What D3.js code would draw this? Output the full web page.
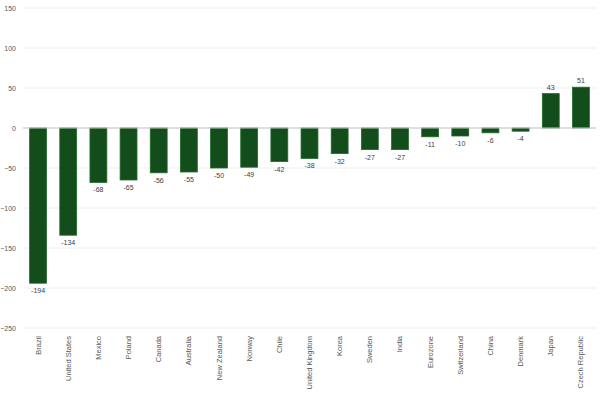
<!DOCTYPE html>
<html>
<head>
<meta charset="utf-8">
<script src="https://cdn.jsdelivr.net/npm/d3@7"></script>
<style>
  body { margin: 0; background: #fff; }
  text { font-family: "Liberation Sans", Arial, sans-serif; fill: #595959; }
</style>
</head>
<body>
<div id="chart"></div>
<script>
// Data
var countries = ["Brazil", "United States", "Mexico", "Poland", "Canada", "Australia",
  "New Zealand", "Norway", "Chile", "United Kingdom", "Korea", "Sweden", "India",
  "Eurozone", "Switzerland", "China", "Denmark", "Japan", "Czech Republic"];
var values = [-194, -134, -68, -65, -56, -55, -50, -49, -42, -38, -32, -27, -27,
  -11, -10, -6, -4, 43, 51];
var yTicks = [150, 100, 50, 0, -50, -100, -150, -200, -250];

var svgWidth = 602;
var svgHeight = 394;

var margin = { top: 8, right: 6, bottom: 66, left: 23 };
var width = svgWidth - margin.left - margin.right;
var height = svgHeight - margin.top - margin.bottom;

var data = countries.map((c, i) => ({ name: c, value: values[i] }));

var svg = d3.select("#chart")
  .append("svg")
  .attr("width", svgWidth)
  .attr("height", svgHeight);

var chartGroup = svg.append("g")
  .attr("transform", `translate(${margin.left}, ${margin.top})`);

// Scales
var xScale = d3.scaleBand()
  .domain(countries)
  .range([0, width])
  .paddingInner(0.44)
  .paddingOuter(0.22);

var yScale = d3.scaleLinear()
  .domain([-250, 150])
  .range([height, 0]);

// Gridlines
chartGroup.selectAll(".grid")
  .data(yTicks.filter(d => d !== 0))
  .enter()
  .append("line")
  .attr("x1", 0)
  .attr("x2", width)
  .attr("y1", d => yScale(d))
  .attr("y2", d => yScale(d))
  .attr("stroke", "#eeeeee")
  .attr("stroke-width", 1);

// Y axis labels
var leftAxis = d3.axisLeft(yScale).tickValues(yTicks).tickSize(0).tickPadding(7);
var yAxis = chartGroup.append("g").call(leftAxis);
yAxis.select(".domain").remove();
yAxis.selectAll("text")
  .style("font-size", "7px")
  .style("fill", "#595959")
  .style("font-family", "'Liberation Sans', Arial, sans-serif");

// Bars
chartGroup.selectAll(".bar")
  .data(data)
  .enter()
  .append("rect")
  .attr("x", d => xScale(d.name))
  .attr("y", d => yScale(Math.max(0, d.value)))
  .attr("width", xScale.bandwidth())
  .attr("height", d => Math.abs(yScale(d.value) - yScale(0)))
  .attr("fill", "#144d1c")
  .attr("stroke", "#1f6b2a")
  .attr("stroke-width", 0.8);

// Zero line
chartGroup.append("line")
  .attr("x1", 0)
  .attr("x2", width)
  .attr("y1", yScale(0))
  .attr("y2", yScale(0))
  .attr("stroke", "#bfbfbf")
  .attr("stroke-width", 1.2);

// Value labels
chartGroup.selectAll(".val")
  .data(data)
  .enter()
  .append("text")
  .attr("x", d => xScale(d.name) + xScale.bandwidth() / 2)
  .attr("y", d => d.value < 0 ? yScale(d.value) + 10 : yScale(d.value) - 4)
  .attr("text-anchor", "middle")
  .style("font-size", "7px")
  .style("fill", "#404040")
  .text(d => d.value);

// Category labels (rotated)
chartGroup.selectAll(".cat")
  .data(countries)
  .enter()
  .append("text")
  .attr("transform", d => `translate(${xScale(d) + xScale.bandwidth() / 2 + 2.5}, ${height + 8}) rotate(-90)`)
  .attr("text-anchor", "end")
  .style("font-size", "7.5px")
  .style("fill", "#595959")
  .text(d => d);
</script>
</body>
</html>
